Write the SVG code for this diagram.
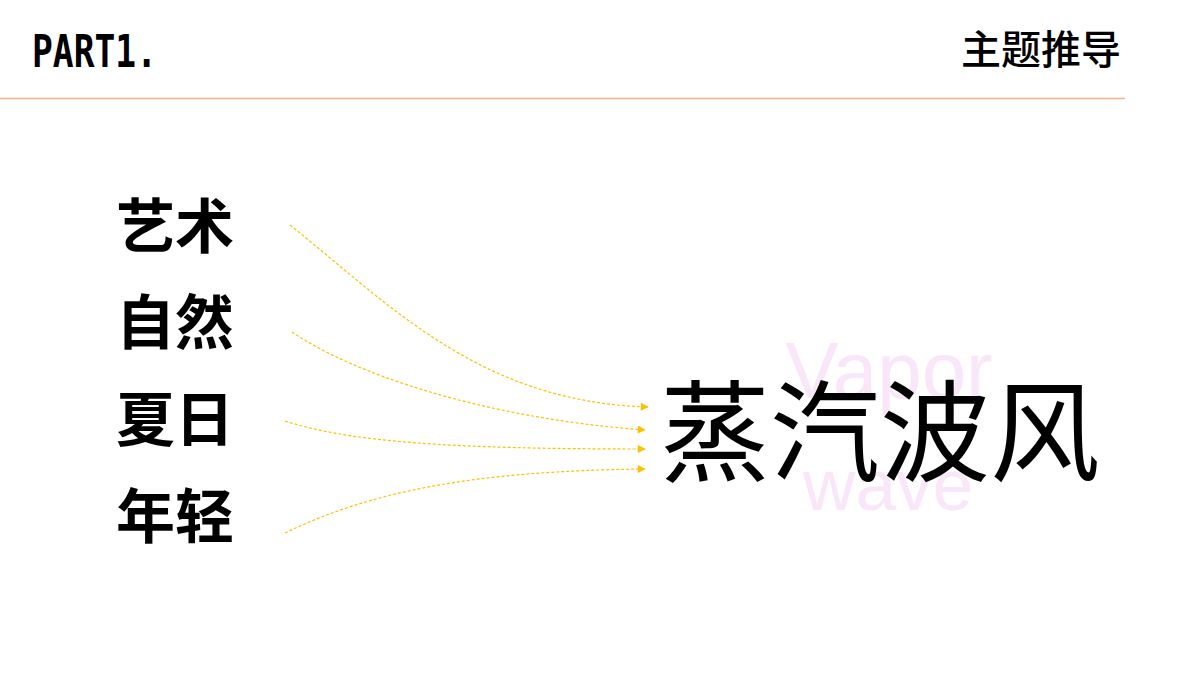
<svg xmlns="http://www.w3.org/2000/svg" width="1200" height="675" viewBox="0 0 1200 675">
<defs>
<style>
.lbl{font-family:"Noto Sans CJK SC","Noto Sans",sans-serif;font-weight:bold;font-size:59px;fill:#000}
.main{font-family:"Noto Sans CJK SC","Noto Sans",sans-serif;font-size:110px;fill:#000}
.bg{font-family:"Liberation Sans",Arial,sans-serif;fill:#F9E6F9;text-anchor:middle}
.conn{fill:none;stroke:#FFC000;stroke-width:1.2;stroke-dasharray:3 2;marker-end:url(#ah)}
</style>
<marker id="ah" viewBox="0 0 10 10" refX="9" refY="5" markerWidth="9" markerHeight="8" markerUnits="userSpaceOnUse" orient="auto">
<path d="M0,0 L10,5 L0,10 Z" fill="#FFC000"/>
</marker>
</defs>
<rect width="1200" height="675" fill="#fff"/>
<g id="header">
<text x="32" y="67" font-family="DejaVu Sans Mono,monospace" font-weight="bold" font-size="44" textLength="125" lengthAdjust="spacingAndGlyphs" fill="#000">PART1.</text>
<text x="1121" y="64" text-anchor="end" font-family="Noto Sans CJK SC,sans-serif" font-size="40" font-weight="500" fill="#000">主题推导</text>
<line x1="0" y1="98.5" x2="1125" y2="98.5" stroke="#F4B183" stroke-width="1.5"/>
</g>
<g id="watermark">
<text class="bg" x="889" y="398" font-size="80">Vapor</text>
<text class="bg" x="888" y="510" font-size="73">wave</text>
</g>
<g id="node-art"><text class="lbl" x="116" y="248">艺术</text></g>
<g id="node-nature"><text class="lbl" x="116" y="344">自然</text></g>
<g id="node-summer"><text class="lbl" x="116" y="441">夏日</text></g>
<g id="node-young"><text class="lbl" x="116" y="538">年轻</text></g>
<g id="node-vaporwave"><text class="main" x="660" y="473">蒸汽波风</text></g>
<g id="connectors">
<path class="conn" d="M290,225 C390,305 480,402 648,407"/>
<path class="conn" d="M292,332 C350,372 480,418 645,430"/>
<path class="conn" d="M285,421 C350,442 450,449 645,449"/>
<path class="conn" d="M285,533 C370,492 470,471 645,469"/>
</g>
</svg>
